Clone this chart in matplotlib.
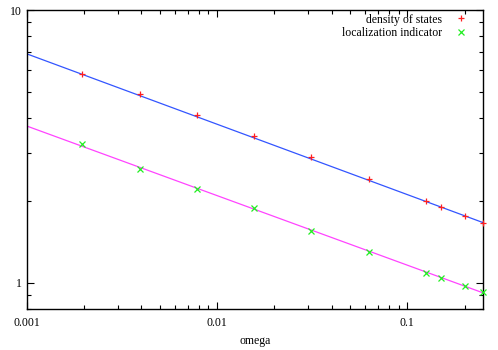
import numpy as np
import matplotlib
matplotlib.use("Agg")
import matplotlib.pyplot as plt
from matplotlib.ticker import LogLocator, NullFormatter, FixedLocator, FixedFormatter

plt.rcParams['font.family'] = ['Liberation Serif', 'DejaVu Serif']

# data
omega = [1/512, 1/256, 1/128, 1/64, 1/32, 1/16, 1/8, 0.15, 0.2, 0.25]
dos = [5.83, 4.91, 4.11, 3.44, 2.88, 2.40, 1.99, 1.90, 1.76, 1.66]
loc = [3.22, 2.60, 2.21, 1.87, 1.55, 1.29, 1.085, 1.04, 0.975, 0.927]

# fitted lines (endpoints)
fit_x = [0.001, 0.25]
fit_dos = [6.9, 1.66]
fit_loc = [3.75, 0.917]

fig = plt.figure(figsize=(4.98, 3.5), dpi=100)
ax = fig.add_axes([27/498, 1 - 309/350, (483 - 27)/498, (309 - 10)/350])

ax.plot(fit_x, fit_dos, color='#3355ff', lw=0.9, zorder=2)
ax.plot(fit_x, fit_loc, color='#ff44ff', lw=0.9, zorder=2)
ax.plot(omega, dos, ls='none', marker='+', ms=5, mew=0.9, color='#ff2020',
        label='density of states', zorder=3, clip_on=False)
ax.plot(omega, loc, ls='none', marker='x', ms=4, mew=0.9, color='#22ee22',
        label='localization indicator', zorder=3, clip_on=False)

ax.set_xscale('log')
ax.set_yscale('log')
ax.set_xlim(0.001, 0.25)
ax.set_ylim(0.8, 10)

ax.xaxis.set_major_locator(FixedLocator([0.001, 0.01, 0.1]))
ax.xaxis.set_major_formatter(FixedFormatter(['0.001', '0.01', '0.1']))
ax.xaxis.set_minor_locator(LogLocator(base=10, subs=np.arange(2, 10)))
ax.xaxis.set_minor_formatter(NullFormatter())
ax.yaxis.set_major_locator(FixedLocator([1, 10]))
ax.yaxis.set_major_formatter(FixedFormatter(['1', '10']))
ax.yaxis.set_minor_locator(LogLocator(base=10, subs=np.arange(2, 10)))
ax.yaxis.set_minor_formatter(NullFormatter())

ax.tick_params(which='both', direction='in', top=True, right=True, labelsize=8.5, width=0.8)
ax.tick_params(which='major', length=5)
ax.tick_params(which='minor', length=3)
ax.tick_params(axis='x', which='major', pad=6)
ax.tick_params(axis='y', which='major', pad=4)

for s in ax.spines.values():
    s.set_linewidth(1.0)

ax.set_xlabel('omega', fontsize=8.5, labelpad=4)

leg = ax.legend(loc='upper right', bbox_to_anchor=(0.974, 1.0), frameon=False,
                fontsize=8.5, markerfirst=False,
                handlelength=1.2, handletextpad=1.0, borderaxespad=0.1,
                labelspacing=0.1, borderpad=0.2)
for t in leg.get_texts():
    t.set_ha('right')

fig.savefig('out.png', dpi=100)
